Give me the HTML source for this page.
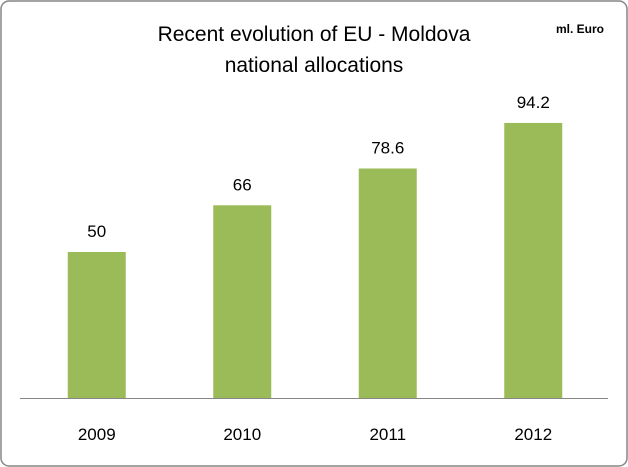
<!DOCTYPE html>
<html><head><meta charset="utf-8"><style>
html,body{margin:0;padding:0;background:#fff;}
svg{display:block;font-family:"Liberation Sans",sans-serif;}
</style></head><body>
<svg width="628" height="467" viewBox="0 0 628 467">
<rect x="1" y="1" width="626" height="465" rx="8" fill="#fff" stroke="#868686" stroke-width="1.5"/>
<text x="314" y="41" text-anchor="middle" font-size="21" fill="#000">Recent evolution of EU - Moldova</text>
<text x="314" y="72" text-anchor="middle" font-size="21" fill="#000">national allocations</text>
<text x="580" y="33" text-anchor="middle" font-size="12" font-weight="bold" fill="#000">ml. Euro</text>
<line x1="20" y1="398.5" x2="608" y2="398.5" stroke="#868686" stroke-width="1"/>
<g id="bars"></g>
</svg>
<script>
const categories=["2009","2010","2011","2012"];
const values=[50,66,78.6,94.2];
const valueLabels=["50","66","78.6","94.2"];
const g=document.getElementById('bars');
const ns="http://www.w3.org/2000/svg";
const baseY=398, scale=2.92, left=20, slot=145.5, barW=58;
function xCenter(i){return left+slot*(i+0.5)+4;}
function yVal(v){return baseY-v*scale;}
categories.forEach((c,i)=>{
  const cx=xCenter(i), y=yVal(values[i]);
  const r=document.createElementNS(ns,'rect');
  r.setAttribute('x',cx-barW/2);r.setAttribute('y',y);
  r.setAttribute('width',barW);r.setAttribute('height',baseY-y);
  r.setAttribute('fill','#9BBB59');
  
  
  g.appendChild(r);
  const t=document.createElementNS(ns,'text');
  t.setAttribute('x',cx);t.setAttribute('y',y-15);
  t.setAttribute('text-anchor','middle');t.setAttribute('font-size','17');
  t.textContent=valueLabels[i];
  
  
  g.appendChild(t);
  const l=document.createElementNS(ns,'text');
  l.setAttribute('x',cx);l.setAttribute('y',440);
  l.setAttribute('text-anchor','middle');l.setAttribute('font-size','17');
  l.textContent=c;
  
  
  g.appendChild(l);
});
</script>
</body></html>
